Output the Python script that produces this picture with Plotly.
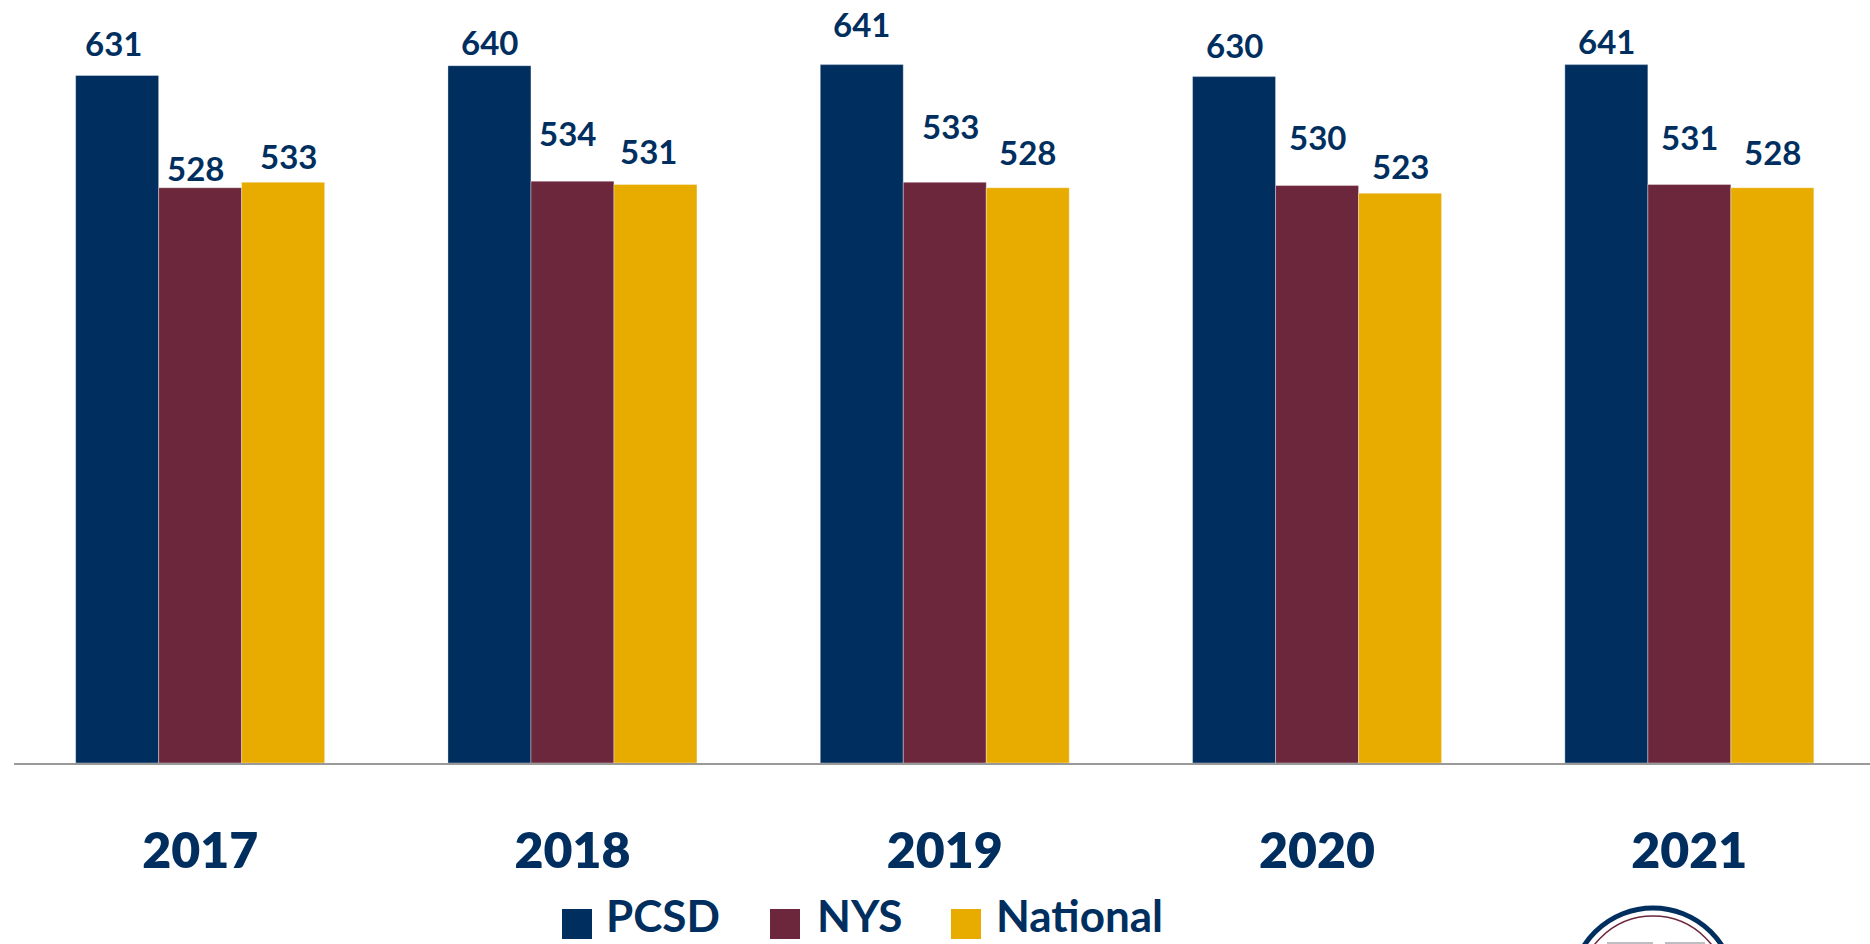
import plotly.graph_objects as go

years = ["2017", "2018", "2019", "2020", "2021"]
series_names = ["PCSD", "NYS", "National"]
pcsd = [631, 640, 641, 630, 641]
nys = [528, 534, 533, 530, 531]
national = [533, 531, 528, 523, 528]
series_values = [pcsd, nys, national]

# label placement, kept apart from the data (pixels away from the bar top / centre)
label_lift = [[33, 24, 41, 32, 24], [20, 48, 56, 49, 47], [26, 33, 36, 27, 36]]
label_shift = [[-4, 0, 0, 0, 0], [-5, -5, 6, 0, 0], [5, -7, 0, 0, 0]]

NAVY, MAROON, GOLD = "#002F5F", "#6D273D", "#E8AB00"
colors = [NAVY, MAROON, GOLD]
W, H = 1870, 944
L, B = 14, 763
PERIOD = 372.3
FONT = "Lato"


def px(x):
    return (x - L) / (W - L)


def py(y):
    return (B - y) / B


fig = go.Figure()
for name, vals, col in zip(series_names, series_values, colors):
    fig.add_bar(x=list(range(len(years))), y=vals, name=name, marker_color=col,
                marker_line=dict(color="rgba(255,255,255,0.35)", width=1), showlegend=False)

annotations = []
bar_w = 83 / PERIOD
for k, vals in enumerate(series_values):
    for i, v in enumerate(vals):
        annotations.append(dict(x=i + (k - 1) * bar_w, y=v, xref="x", yref="y", text=str(v),
                                showarrow=False, xanchor="center", yanchor="middle",
                                yshift=label_lift[k][i], xshift=label_shift[k][i],
                                font=dict(family=FONT, size=33, color=NAVY, weight=700)))

shapes = []
legend_swatch_x = [562, 770, 951]
legend_text_x = [604, 815, 994]
for name, col, sx, tx in zip(series_names, colors, legend_swatch_x, legend_text_x):
    shapes.append(dict(type="rect", xref="paper", yref="paper", x0=px(sx), x1=px(sx + 30),
                       y0=py(939), y1=py(909), fillcolor=col, line_width=0))
    annotations.append(dict(x=px(tx), y=py(915), xref="paper", yref="paper", text=name,
                            showarrow=False, xanchor="left", yanchor="middle",
                            font=dict(family=FONT, size=44, color=NAVY, weight=700)))

# partial seal at the bottom right edge
cx, cy = 1653, 990
for r, lw, col in [(82, 5, NAVY), (74, 1.5, MAROON)]:
    shapes.append(dict(type="circle", xref="paper", yref="paper", x0=px(cx - r), x1=px(cx + r),
                       y0=py(cy + r), y1=py(cy - r), line=dict(color=col, width=lw),
                       fillcolor="rgba(0,0,0,0)"))
for x0, x1 in [(1607, 1653), (1665, 1705)]:
    shapes.append(dict(type="rect", xref="paper", yref="paper", x0=px(x0), x1=px(x1),
                       y0=py(944), y1=py(942), fillcolor="#BDBDC2", line_width=0))

fig.update_layout(
    width=W, height=H, autosize=False,
    margin=dict(l=L, r=0, t=0, b=H - B, pad=0),
    paper_bgcolor="white", plot_bgcolor="white",
    barmode="group", bargap=1 - 3 * bar_w, bargroupgap=0,
    annotations=annotations, shapes=shapes,
    xaxis=dict(tickmode="array", tickvals=list(range(len(years))), ticktext=years,
               range=[-0.5, (W - L) / PERIOD - 0.5], showgrid=False, zeroline=False, ticks="",
               showline=True, linecolor="#999999", linewidth=2, ticklabelstandoff=43,
               tickfont=dict(family=FONT, size=50, color=NAVY, weight=800)),
    yaxis=dict(range=[0, 700.3], visible=False, showgrid=False, zeroline=False),
)

fig.write_html("out.html", config={"displayModeBar": False},
               post_script="document.body.style.margin='0';document.body.style.overflow='hidden';")
